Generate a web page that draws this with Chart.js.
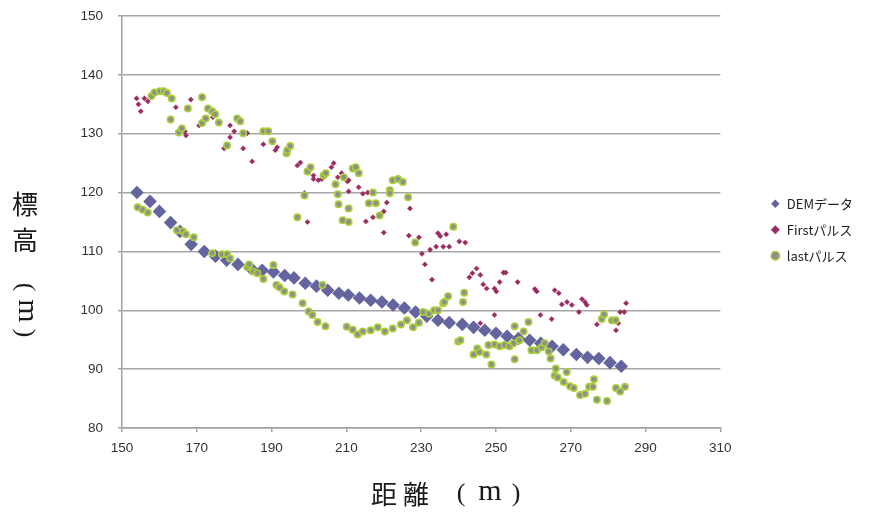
<!DOCTYPE html>
<html>
<head>
<meta charset="utf-8">
<script src="https://cdn.jsdelivr.net/npm/chart.js@4.4.0/dist/chart.umd.min.js"></script>
<style>
  html, body { margin: 0; padding: 0; background: #fff; }
</style>
</head>
<body>
<canvas id="myChart" width="873" height="515"></canvas>
<script>
// DEMデータ
const demX = [154, 157.5, 160, 163, 165.5, 168.5, 172, 175, 178, 181, 184.5, 187.5, 190.5, 193.5, 196, 199, 202, 205, 208, 210.5, 213.5, 216.5, 219.5, 222.5, 225.5, 228.5, 231.5, 234.5, 237.5, 241, 244, 247, 250, 253, 256, 259, 262, 265, 268, 271.5, 274.5, 277.5, 280.5, 283.5];
const demY = [120, 118.5, 116.8, 114.9, 113.4, 111.2, 110, 109.2, 108.5, 107.8, 107.1, 106.8, 106.5, 105.9, 105.5, 104.6, 104.1, 103.4, 102.9, 102.6, 102.1, 101.7, 101.4, 100.9, 100.4, 99.7, 99.0, 98.3, 97.9, 97.6, 97.1, 96.6, 96.1, 95.6, 95.2, 94.9, 94.4, 93.9, 93.3, 92.5, 92.0, 91.8, 91.1, 90.5];

// Firstパルス
const firstX = [153.9, 154.4, 155.0, 156.0, 156.9, 164.4, 166.8, 167.1, 168.4, 170.6, 174.3, 178.9, 180.0, 178.9, 177.3, 182.4, 183.5, 184.8, 187.8, 191.0, 191.5, 196.9, 197.7, 198.8, 199.6, 201.2, 201.2, 202.5, 203.4, 206.0, 206.6, 207.7, 208.7, 210.3, 210.6, 210.6, 213.3, 214.4, 215.7, 215.2, 217.1, 220.0, 220.8, 220.0, 227.0, 226.7, 229.4, 230.2, 231.0, 232.4, 232.9, 234.0, 234.5, 235.1, 235.9, 236.7, 237.5, 240.2, 241.8, 242.9, 243.7, 244.8, 245.8, 245.8, 246.6, 247.5, 249.6, 249.6, 250.1, 251.0, 252.0, 252.6, 255.8, 260.4, 260.9, 261.9, 264.9, 265.7, 266.8, 267.6, 269.0, 270.3, 272.2, 273.0, 273.8, 274.3, 277.0, 282.1, 282.7, 283.2, 284.3, 284.8];
const firstY = [136.0, 135.0, 133.8, 136.0, 135.5, 134.5, 130.4, 129.7, 135.8, 131.4, 132.8, 131.4, 130.4, 129.4, 127.5, 127.5, 130.1, 125.3, 128.2, 127.2, 127.7, 124.6, 125.1, 119.9, 115.0, 122.9, 122.3, 122.1, 122.3, 124.3, 125.0, 122.6, 123.3, 121.9, 120.2, 122.1, 120.9, 119.8, 120.0, 115.1, 115.8, 116.8, 118.3, 113.2, 117.3, 112.7, 112.4, 109.6, 107.8, 110.3, 105.2, 110.8, 113.1, 112.6, 110.8, 112.9, 110.8, 111.7, 111.5, 105.6, 106.3, 107.1, 106.0, 97.8, 104.4, 103.7, 103.7, 99.2, 103.2, 104.8, 106.4, 106.4, 104.8, 103.6, 103.2, 99.2, 98.5, 103.4, 102.9, 101.0, 101.4, 100.9, 99.7, 101.9, 101.4, 100.9, 97.6, 96.6, 97.8, 99.7, 99.7, 101.2];

// lastパルス
const lastX = [154.2, 155.5, 156.9, 157.9, 158.7, 160.1, 161.2, 162.0, 163.3, 163.0, 164.7, 165.2, 166.0, 166.3, 167.1, 167.6, 169.2, 171.4, 171.4, 172.4, 173.0, 174.1, 174.1, 174.9, 175.9, 176.7, 178.1, 178.1, 178.9, 180.8, 181.6, 182.4, 183.5, 184.0, 185.1, 186.2, 187.8, 187.8, 189.1, 190.2, 190.5, 191.3, 192.1, 193.4, 194.0, 194.2, 195.0, 195.6, 196.9, 198.3, 198.8, 199.6, 199.9, 200.4, 200.9, 202.3, 203.6, 204.4, 203.9, 204.5, 207.1, 207.7, 207.9, 209.0, 209.3, 210.1, 210.6, 210.6, 211.7, 211.7, 212.5, 213.0, 213.3, 214.4, 216.0, 216.5, 217.1, 217.9, 218.4, 218.9, 220.3, 221.6, 221.6, 222.4, 222.4, 223.8, 224.6, 225.1, 226.2, 226.5, 227.8, 228.4, 229.4, 230.5, 232.1, 233.5, 234.5, 235.9, 236.2, 237.2, 238.6, 239.9, 240.5, 241.2, 241.5, 244.0, 245.0, 245.6, 247.4, 248.0, 248.8, 249.6, 251.0, 252.3, 253.6, 254.7, 255.0, 255.0, 256.3, 257.4, 258.7, 259.5, 260.9, 262.2, 263.0, 264.1, 264.6, 265.7, 266.0, 266.5, 268.1, 268.9, 269.8, 270.8, 272.5, 273.8, 274.9, 275.9, 276.2, 277.0, 278.3, 278.9, 279.7, 281.0, 282.0, 282.1, 283.2, 284.5];
const lastY = [117.5, 117.1, 116.6, 136.4, 137.0, 137.2, 137.2, 136.9, 136.0, 132.4, 113.6, 130.2, 130.9, 113.4, 112.9, 134.3, 112.4, 136.2, 131.8, 132.6, 134.3, 133.8, 109.7, 133.3, 131.9, 109.5, 128.0, 109.5, 108.8, 132.6, 132.1, 130.1, 107.3, 107.8, 106.6, 106.3, 130.4, 105.3, 130.4, 128.7, 107.7, 104.3, 103.9, 103.2, 126.7, 127.2, 127.9, 102.7, 115.8, 101.2, 119.5, 123.6, 99.8, 124.3, 99.2, 98.0, 104.3, 97.3, 122.9, 123.3, 121.4, 119.7, 118.0, 115.3, 122.6, 97.2, 117.3, 115.0, 124.1, 96.7, 124.3, 95.9, 123.3, 96.4, 118.2, 96.6, 120.0, 118.2, 97.1, 116.1, 96.4, 120.4, 119.9, 122.1, 96.9, 122.3, 97.6, 121.8, 98.3, 119.2, 97.1, 111.5, 97.9, 99.7, 99.4, 100.0, 100.0, 101.2, 101.4, 102.4, 114.2, 94.7, 94.9, 101.4, 103.0, 92.5, 93.5, 92.9, 92.5, 94.1, 90.8, 94.2, 93.9, 94.1, 93.9, 94.4, 97.3, 91.7, 94.9, 96.4, 98.0, 93.2, 93.2, 93.7, 94.4, 93.0, 91.8, 88.9, 90.1, 88.6, 87.8, 89.5, 87.1, 86.8, 85.6, 85.8, 87.0, 87.0, 88.3, 84.8, 98.5, 99.3, 84.6, 98.3, 98.3, 86.8, 86.2, 87.0];

const seriesNames = ["DEMデータ", "Firstパルス", "lastパルス"];

function toPoints(xs, ys) {
  return xs.map(function (x, i) {
    return { x: x, y: ys[i] };
  });
}

// 軸タイトル（縦書き）
const axisTitles = {
  id: "axisTitles",
  afterDraw(chart) {
    const ctx = chart.ctx;
    ctx.save();
    ctx.fillStyle = "#1a1a1a";
    ctx.textAlign = "center";
    ctx.textBaseline = "middle";

    // 縦軸 標高（m）
    ctx.font = '26px "Noto Sans CJK JP"';
    ctx.fillText("標", 25, 204);
    ctx.fillText("高", 25, 240);
    ctx.save();
    ctx.translate(25, 311);
    ctx.rotate(Math.PI / 2);
    ctx.font = '26px "Liberation Serif"';
    ctx.fillText("(", -24, 0);
    ctx.font = '30px "Liberation Serif"';
    ctx.fillText("m", 0, -2);
    ctx.font = '26px "Liberation Serif"';
    ctx.fillText(")", 22, 0);
    ctx.restore();

    // 横軸 距離（m）
    ctx.font = '26px "Noto Sans CJK JP"';
    ctx.fillText("距", 384, 494);
    ctx.fillText("離", 416, 494);
    ctx.font = '26px "Liberation Serif"';
    ctx.fillText("(", 461, 494);
    ctx.font = '30px "Liberation Serif"';
    ctx.fillText("m", 490, 492);
    ctx.font = '26px "Liberation Serif"';
    ctx.fillText(")", 516, 494);
    ctx.restore();
  },
};

const ctx = document.getElementById("myChart").getContext("2d");
const myChart = new Chart(ctx, {
  type: "scatter",
  data: {
    datasets: [
      {
        label: seriesNames[0],
        data: toPoints(demX, demY),
        pointStyle: "rectRot",
        pointRadius: 6.8,
        backgroundColor: "#64649e",
        borderColor: "#64649e",
        borderWidth: 0,
        order: 3,
      },
      {
        label: seriesNames[1],
        data: toPoints(firstX, firstY),
        pointStyle: "rectRot",
        pointRadius: 2.6,
        backgroundColor: "#9b2c60",
        borderColor: "#9b2c60",
        borderWidth: 0.5,
        order: 2,
      },
      {
        label: seriesNames[2],
        data: toPoints(lastX, lastY),
        pointStyle: "circle",
        pointRadius: 3.2,
        backgroundColor: "#8e8e8e",
        borderColor: "#a9d03a",
        borderWidth: 1.6,
        order: 1,
      },
    ],
  },
  options: {
    responsive: false,
    animation: false,
    layout: { padding: { left: 0, top: 16, right: 10, bottom: 0 } },
    plugins: {
      tooltip: { enabled: false },
      legend: {
        position: "right",
        fullSize: false,
        title: { display: true, text: "", padding: 0, font: { size: 13, lineHeight: 1.2 } },
        labels: {
          usePointStyle: true,
          boxWidth: 10,
          boxHeight: 6,
          padding: 13,
          color: "#222",
          font: { size: 13, family: '"Noto Sans CJK JP"' },
          sort: function (a, b) {
            return a.datasetIndex - b.datasetIndex;
          },
        },
      },
    },
    scales: {
      x: {
        type: "linear",
        min: 150,
        max: 310,
        ticks: {
          stepSize: 20,
          padding: 8,
          color: "#333",
          font: { size: 13.5, family: '"Liberation Sans"' },
        },
        grid: {
          drawOnChartArea: false,
          tickLength: 4,
          color: "#a0a0a0",
          lineWidth: 1.5,
        },
        border: { color: "#a0a0a0", width: 1.5 },
        afterFit: function (scale) {
          scale.height = 87;
        },
      },
      y: {
        min: 80,
        max: 150,
        ticks: {
          stepSize: 10,
          padding: 15,
          color: "#333",
          font: { size: 13.5, family: '"Liberation Sans"' },
        },
        grid: { color: "#a6a6a6", lineWidth: 1.5, tickLength: 4 },
        border: { color: "#a0a0a0", width: 1.5 },
        afterFit: function (scale) {
          scale.width = 122;
          scale.paddingTop = 8;
          scale.paddingBottom = 8;
        },
      },
      yGap: {
        position: "right",
        display: true,
        grid: { display: false },
        border: { display: false },
        ticks: { display: false },
        afterFit: function (scale) {
          scale.width = 37;
        },
      },
    },
  },
  plugins: [axisTitles],
});
</script>
</body>
</html>
